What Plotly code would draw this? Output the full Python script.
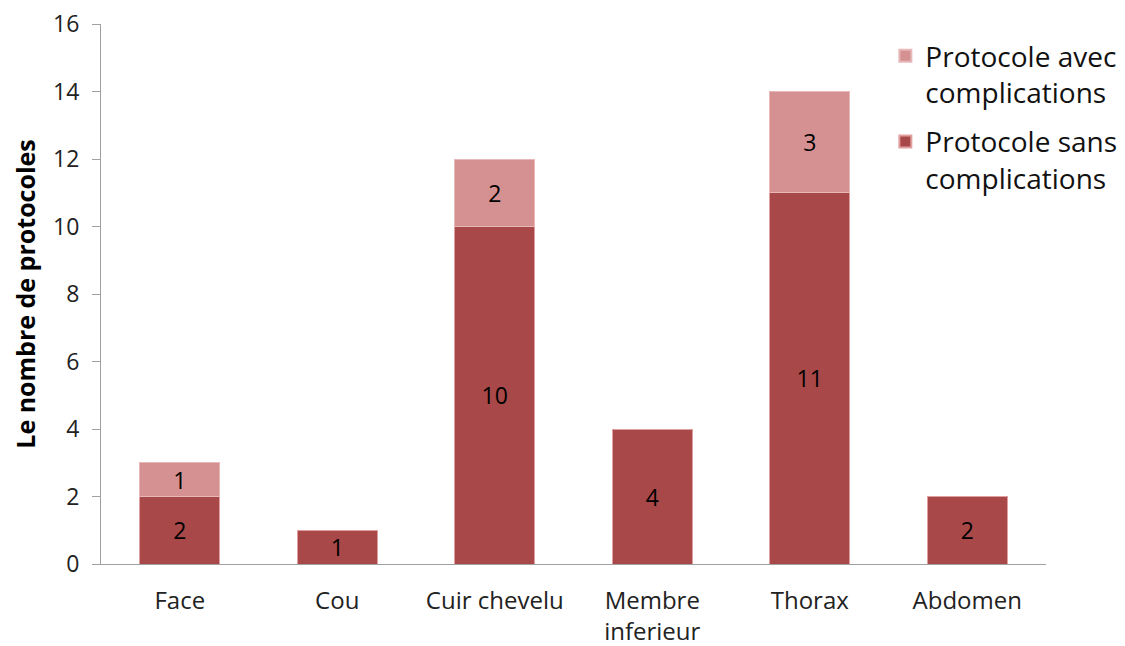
import plotly.graph_objects as go

categories = ["Face", "Cou", "Cuir chevelu", "Membre<br>inferieur", "Thorax", "Abdomen"]
sans_complications = [2, 1, 10, 4, 11, 2]
avec_complications = [1, 0, 2, 0, 3, 0]
y_ticks = [0, 2, 4, 6, 8, 10, 12, 14, 16]

dark = "#A84848"
light = "#D59191"
font_family = "'Open Sans', sans-serif"

avec_text = [str(v) if v else "" for v in avec_complications]
avec_vals = [v if v else None for v in avec_complications]

bar_font = dict(color="black", size=23, family=font_family)

fig = go.Figure()
fig.add_trace(go.Bar(
    x=categories, y=sans_complications, name="Protocole sans<br>complications",
    legendgroup="sans", legendrank=2,
    marker=dict(color=dark, line=dict(color="#E0A0A0", width=1)),
    text=[str(v) for v in sans_complications], textposition="inside",
    insidetextanchor="middle", textangle=0, constraintext="none",
    textfont=bar_font,
))
fig.add_trace(go.Bar(
    x=categories, y=avec_vals, name="Protocole avec<br>complications",
    legendgroup="avec", legendrank=1,
    marker=dict(color=light, line=dict(color="#E8B8B8", width=1)),
    text=avec_text, textposition="inside",
    insidetextanchor="middle", textangle=0, constraintext="none",
    textfont=bar_font,
))

# page has an 8px body margin, so the figure is offset by 8px
fig.update_layout(
    barmode="stack",
    bargap=0.49,
    width=1117, height=638,
    margin=dict(l=93, r=79, t=16, b=82, autoexpand=False),
    plot_bgcolor="white", paper_bgcolor="white",
    font=dict(family=font_family, size=24, color="#222"),
    legend=dict(
        x=0.83, y=0.987, xanchor="left", yanchor="top",
        traceorder="grouped", font=dict(size=28, color="#111"),
        bgcolor="rgba(0,0,0,0)", itemsizing="constant", tracegroupgap=10,
        valign="top",
    ),
    uniformtext=dict(minsize=10, mode="show"),
)
fig.update_yaxes(
    range=[0, 16], tickvals=y_ticks, showgrid=False,
    showline=True, linecolor="#A0A0A0", linewidth=1,
    ticks="outside", tickcolor="#A0A0A0", ticklen=8,
    ticklabelstandoff=8, automargin=False, ticklabeloverflow="allow",
    tickfont=dict(size=23, color="#222"),
    title=dict(text="<b>Le nombre de protocoles</b>", font=dict(size=25, color="black"), standoff=11),
    zeroline=False,
)
fig.update_xaxes(
    showline=True, linecolor="#A0A0A0", linewidth=1,
    tickfont=dict(size=24, color="#222"), ticks="",
    ticklabelstandoff=15, automargin=False, ticklabeloverflow="allow",
)

fig.write_html("out.html")
